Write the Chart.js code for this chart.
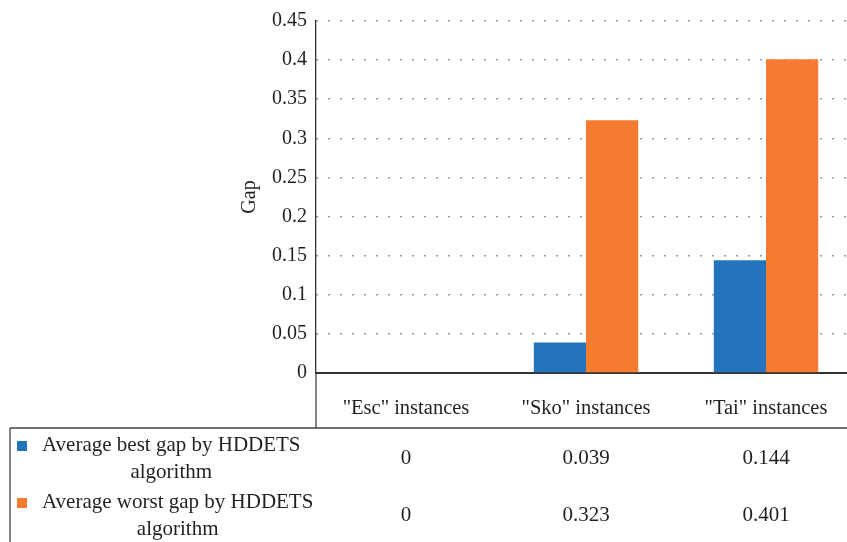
<!DOCTYPE html>
<html>
<head>
<meta charset="utf-8">
<script src="https://cdn.jsdelivr.net/npm/chart.js@4"></script>
<style>
  html, body { margin: 0; padding: 0; background: #fff; overflow: hidden; }
  #wrap { width: 856px; height: 542px; }
</style>
</head>
<body>
<div id="wrap"><canvas id="myChart"></canvas></div>
<script>
'use strict';

const categories = ['"Esc" instances', '"Sko" instances', '"Tai" instances'];
const seriesNames = ['Average best gap by HDDETS algorithm', 'Average worst gap by HDDETS algorithm'];
const bestGap = [0, 0.039, 0.144];
const worstGap = [0, 0.323, 0.401];
const yTicks = [0, 0.05, 0.1, 0.15, 0.2, 0.25, 0.3, 0.35, 0.4, 0.45];

const colors = ['#2473bd', '#f47b2f'];
const font = 'Liberation Serif, Times New Roman, serif';
const textColor = '#231f20';

// data table drawn under the category labels
const dataTable = {
    id: 'dataTable',
    afterDraw(chart) {
        const c = chart.ctx;
        const x = chart.scales.x;
        const area = chart.chartArea;
        const tableTop = 428;
        const rowCenters = [458, 515];
        c.save();
        c.strokeStyle = '#444';
        c.lineWidth = 1.3;
        c.beginPath();
        c.moveTo(area.left, area.bottom);
        c.lineTo(area.left, tableTop);
        c.moveTo(10, tableTop);
        c.lineTo(chart.width, tableTop);
        c.moveTo(10, tableTop);
        c.lineTo(10, chart.height);
        c.stroke();

        c.font = '21px ' + font;
        c.textBaseline = 'middle';
        chart.data.datasets.forEach((ds, i) => {
            const cy = rowCenters[i];
            // legend key
            c.fillStyle = ds.backgroundColor;
            c.fillRect(17, cy - 17, 10, 10);
            // wrap label
            const words = ds.label.split(' ');
            const lines = [];
            let line = '';
            words.forEach(w => {
                const t = line ? line + ' ' + w : w;
                if (c.measureText(t).width > 290 && line) { lines.push(line); line = w; }
                else line = t;
            });
            lines.push(line);
            const blockW = Math.max(...lines.map(l => c.measureText(l).width));
            c.fillStyle = textColor;
            c.textAlign = 'center';
            lines.forEach((l, k) => {
                c.fillText(l, 42 + blockW / 2, cy - 13 + k * 27);
            });
            // values
            ds.data.forEach((v, j) => {
                c.fillText(String(v), x.getPixelForValue(j), cy);
            });
        });
        c.restore();
    }
};

new Chart(document.getElementById('myChart'), {
    type: 'bar',
    data: {
        labels: categories,
        datasets: [
            { label: seriesNames[0], data: bestGap, backgroundColor: colors[0] },
            { label: seriesNames[1], data: worstGap, backgroundColor: colors[1] }
        ]
    },
    plugins: [dataTable],
    options: {
        responsive: true,
        maintainAspectRatio: false,
        animation: false,
        layout: { padding: { left: 226, top: 20, right: 0, bottom: 0 } },
        plugins: {
            legend: { display: false },
            tooltip: { enabled: false }
        },
        datasets: {
            bar: { categoryPercentage: 0.58, barPercentage: 1.0 }
        },
        scales: {
            x: {
                grid: { display: false },
                border: { display: true, color: '#333', width: 2 },
                ticks: { color: textColor, font: { family: font, size: 20.5 }, padding: 15, maxRotation: 0 },
                afterFit: scale => { scale.height = 169; }
            },
            y: {
                min: 0,
                max: 0.45,
                afterBuildTicks: scale => { scale.ticks = yTicks.map(v => ({ value: v })); },
                grid: { color: '#777', lineWidth: 1.5, drawTicks: false },
                border: { display: true, color: '#333', width: 1.3, dash: [1.5, 10.5] },
                ticks: {
                    color: textColor,
                    font: { family: font, size: 20 },
                    padding: 9,
                    callback: v => String(Number(v.toFixed(2)))
                },
                title: { display: true, text: 'Gap', color: textColor, font: { family: font, size: 20 }, padding: { top: 12, bottom: 0 } },
                afterFit: scale => { scale.width = 90; }
            }
        }
    }
});
</script>
</body>
</html>
